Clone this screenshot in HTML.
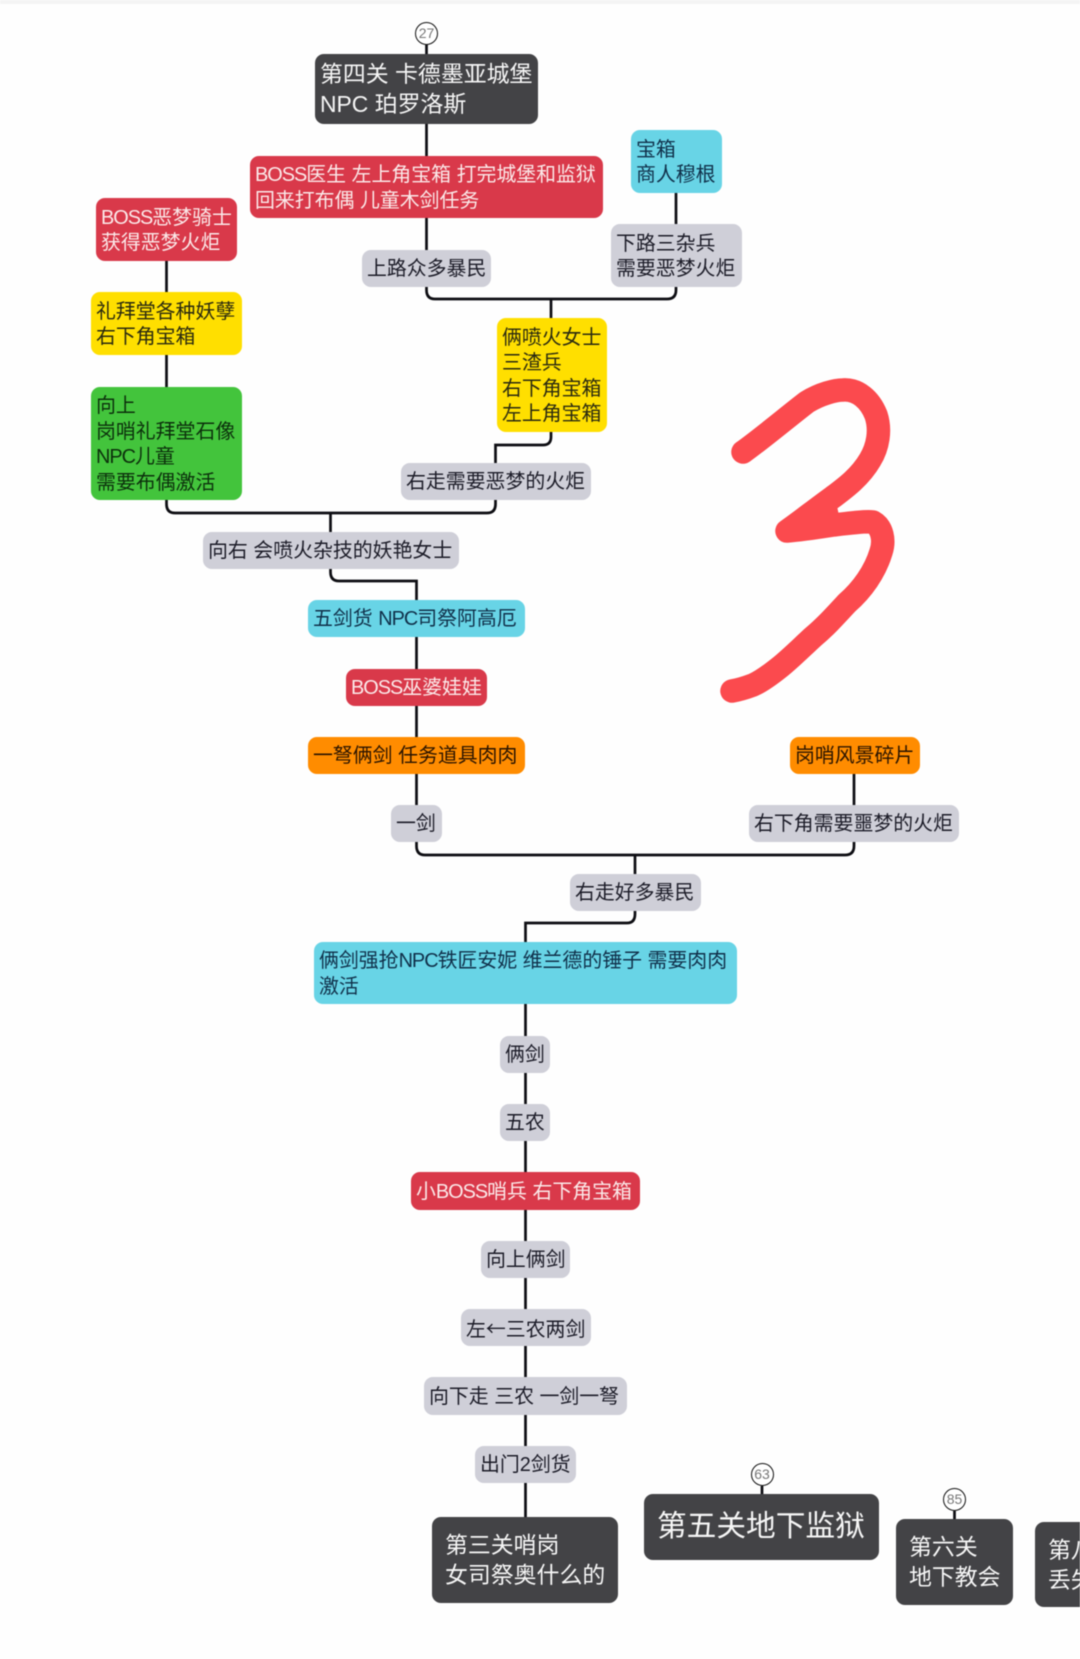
<!DOCTYPE html>
<html><head><meta charset="utf-8"><style>
html,body{margin:0;padding:0;background:#fefefe}
#p{position:relative;width:1080px;height:1659px;overflow:hidden;background:#fefefe;font-family:"Liberation Sans","Noto Sans CJK SC",sans-serif;filter:blur(.5px)}
#t{position:absolute;left:0;top:0;width:1080px;height:4px;background:#f4f4f4}
svg{position:absolute;left:0;top:0}
.n{position:absolute;box-sizing:border-box;border-radius:9px;display:flex;flex-direction:column;justify-content:center;padding-left:5px;padding-top:3px;font-size:19.9px;line-height:25.5px;color:#1c1c28}
.n div{white-space:pre}
.n b{font-weight:normal;letter-spacing:-1px}
.n i{font-style:normal;font-family:"Noto Sans CJK SC",sans-serif}
.g{background:#cfcfd8}.r{background:#d9394a;color:#fbe9e9}.c{background:#68d4e6;color:#10304a}.y{background:#ffdf00;color:#2a2a10}.o{background:#ff8c00;color:#2a1400}.e{background:#43c43c;color:#0c300c}
.d{background:#434346;color:#f6f6f6;font-size:22.9px;line-height:30px;padding-top:0}
.u{position:absolute;box-sizing:border-box;width:23px;height:23px;border:1.6px solid #111;border-radius:50%;background:#fff;color:#777;font-size:14px;line-height:20px;text-align:center}
</style></head><body><div id="p"><div id="t"></div>
<svg width="1080" height="1659" fill="none" stroke="#0d0d12" stroke-width="2.7">
<path d="M426.5 44V260"/>
<path d="M676 190V290Q676 299 667 299H435Q426.5 299 426.5 290V270"/><path d="M551 299V320"/>
<path d="M551 430V437Q551 445 543 445H495.500V465"/>
<path d="M166.500 258V490M166.500 490V504Q166.500 513 175 513H487Q495.500 513 495.500 504V495"/><path d="M330.500 513V535"/>
<path d="M330.500 565V572Q330.500 581 339 581H416.500V810"/>
<path d="M416.500 840V846Q416.500 855 425 855H845Q854 855 854 846V770"/><path d="M635 855V875"/>
<path d="M635 908V914Q635 923 627 923H525.500V1520"/>
<path d="M762 1486V1496M954.500 1511V1520"/>
<path d="M743 452C760 440 790 415 807 402C820 394 835 390 843 390C858 389 870 400 876 415C881 430 878 447 870 460C860 477 845 488 833 497C815 510 800 522 787 531C800 530 820 527 833 525C850 523 866 521 873 522C882 527 885 540 881 552C875 572 862 590 847 603C835 616 825 627 813 637C800 649 790 659 780 667C770 675 760 682 753 685C745 688 738 690 732 691" stroke="#fb4a4e" stroke-width="23.500" stroke-linecap="round" stroke-linejoin="round"/>
<path d="M790 522L835 497L840 520Z" fill="#fb4a4e" stroke="none"/>
</svg>
<div class="u" style="left:415px;top:22px">27</div>
<div class="u" style="left:750.500px;top:1463px">63</div>
<div class="u" style="left:943px;top:1488px">85</div>
<div class="n d" style="left:315px;top:54px;width:223px;height:70px"><div>第四关 卡德墨亚城堡
NPC 珀罗洛斯</div></div>
<div class="n r" style="left:250px;top:156px;width:353px;height:62px"><div><b>BOSS</b>医生 左上角宝箱 打完城堡和监狱
回来打布偶 儿童木剑任务</div></div>
<div class="n c" style="left:631px;top:130px;width:91px;height:63px"><div>宝箱
商人穆根</div></div>
<div class="n g" style="left:611px;top:224px;width:131px;height:63px"><div>下路三杂兵
需要恶梦火炬</div></div>
<div class="n g" style="left:362px;top:250px;width:129px;height:37px"><div>上路众多暴民</div></div>
<div class="n r" style="left:96px;top:198px;width:141px;height:63px"><div><b>BOSS</b>恶梦骑士
获得恶梦火炬</div></div>
<div class="n y" style="left:91px;top:292px;width:151px;height:63px"><div>礼拜堂各种妖孽
右下角宝箱</div></div>
<div class="n e" style="left:91px;top:387px;width:151px;height:113px"><div>向上
岗哨礼拜堂石像
<b>NPC</b>儿童
需要布偶激活</div></div>
<div class="n y" style="left:497px;top:318px;width:110px;height:114px"><div>俩喷火女士
三渣兵
右下角宝箱
左上角宝箱</div></div>
<div class="n g" style="left:401px;top:463px;width:190px;height:37px"><div>右走需要恶梦的火炬</div></div>
<div class="n g" style="left:203px;top:532px;width:256px;height:37px"><div>向右 会喷火杂技的妖艳女士</div></div>
<div class="n c" style="left:308px;top:600px;width:217px;height:37px"><div>五剑货 <b>NPC</b>司祭阿高厄</div></div>
<div class="n r" style="left:346px;top:669px;width:141px;height:37px"><div><b>BOSS</b>巫婆娃娃</div></div>
<div class="n o" style="left:308px;top:737px;width:217px;height:37px"><div>一弩俩剑 任务道具肉肉</div></div>
<div class="n o" style="left:790px;top:737px;width:130px;height:37px"><div>岗哨风景碎片</div></div>
<div class="n g" style="left:391px;top:805px;width:51px;height:37px"><div>一剑</div></div>
<div class="n g" style="left:749px;top:805px;width:210px;height:37px"><div>右下角需要噩梦的火炬</div></div>
<div class="n g" style="left:570px;top:874px;width:131px;height:37px"><div>右走好多暴民</div></div>
<div class="n c" style="left:314px;top:942px;width:423px;height:62px"><div>俩剑强抢<b>NPC</b>铁匠安妮 维兰德的锤子 需要肉肉
激活</div></div>
<div class="n g" style="left:500px;top:1036px;width:50px;height:37px"><div>俩剑</div></div>
<div class="n g" style="left:500px;top:1104px;width:50px;height:37px"><div>五农</div></div>
<div class="n r" style="left:411px;top:1172px;width:229px;height:38px"><div>小<b>BOSS</b>哨兵 右下角宝箱</div></div>
<div class="n g" style="left:481px;top:1241px;width:89px;height:37px"><div>向上俩剑</div></div>
<div class="n g" style="left:461px;top:1309px;width:130px;height:37px"><div>左<i>←</i>三农两剑</div></div>
<div class="n g" style="left:424px;top:1377px;width:203px;height:38px"><div>向下走 三农 一剑一弩</div></div>
<div class="n g" style="left:475px;top:1446px;width:101px;height:37px"><div>出门2剑货</div></div>
<div class="n d" style="left:432px;top:1517px;width:186px;height:86px;padding-left:13px"><div>第三关哨岗
女司祭奥什么的</div></div>
<div class="n d" style="left:644px;top:1494px;width:235px;height:66px;padding:0 0 1px 13px;font-size:29.700px;line-height:36px"><div>第五关地下监狱</div></div>
<div class="n d" style="left:896px;top:1519px;width:117px;height:86px;padding-left:13px"><div>第六关
地下教会</div></div>
<div class="n d" style="left:1035px;top:1522px;width:120px;height:85px;padding-left:13px"><div>第八关
丢失之城</div></div>
</div></body></html>
